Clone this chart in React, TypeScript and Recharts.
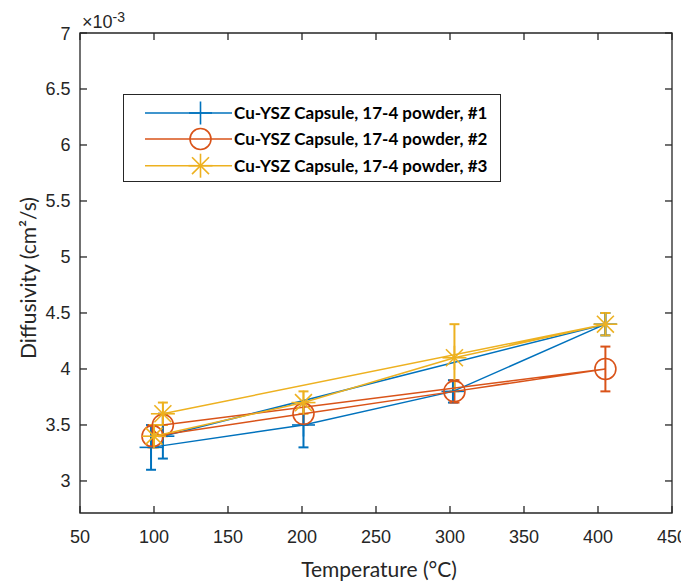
import React from 'react';
import { ScatterChart, Scatter, XAxis, YAxis, ErrorBar, ReferenceArea, Legend, Label } from 'recharts';

const seriesNames = [
  'Cu-YSZ Capsule, 17-4 powder, #1',
  'Cu-YSZ Capsule, 17-4 powder, #2',
  'Cu-YSZ Capsule, 17-4 powder, #3',
];
const seriesColors = ['#0072BD', '#D95319', '#EDB120'];

const temps1 = [98, 201, 302, 405, 106];
const diff1 = [3.3, 3.5, 3.8, 4.4, 3.4];
const err1 = [0.2, 0.2, 0.1, 0.1, 0.2];

const temps2 = [99, 201, 303, 405, 106];
const diff2 = [3.4, 3.6, 3.8, 4.0, 3.5];
const err2 = [0.1, 0.1, 0.1, 0.2, 0.1];

const temps3 = [100, 201, 303, 405, 106];
const diff3 = [3.4, 3.7, 4.1, 4.4, 3.6];
const err3 = [0.1, 0.1, 0.3, 0.1, 0.1];

const xTicks = [50, 100, 150, 200, 250, 300, 350, 400, 450];
const yTicks = [3, 3.5, 4, 4.5, 5, 5.5, 6, 6.5, 7];
const xDomain = [50, 450];
const yDomain = [2.714, 7];

const build = (t: number[], d: number[], e: number[]) => t.map((x, i) => ({ x, y: d[i], err: e[i] }));
const data1 = build(temps1, diff1, err1);
const data2 = build(temps2, diff2, err2);
const data3 = build(temps3, diff3, err3);

const W = 681;
const H = 574;
const Y_W = 72;
const X_H = 69;
const M = { top: 25, right: 17, bottom: 0, left: 0 };
const PT = M.top;
const PB = H - X_H;
const PL = Y_W;
const PR = W - M.right;
const AX = '#262626';
const TICK_FONT = '"Liberation Sans", Arial, sans-serif';
const LABEL_FONT = 'Lato, "Open Sans", sans-serif';

function drawMarker(kind: number, color: string, cx: number, cy: number) {
  if (kind === 0) {
    return (
      <g>
        <line x1={cx - 11.5} x2={cx + 11.5} y1={cy} y2={cy} stroke={color} strokeWidth={1.6} />
        <line x1={cx} x2={cx} y1={cy - 11.5} y2={cy + 11.5} stroke={color} strokeWidth={1.6} />
      </g>
    );
  }
  if (kind === 1) {
    return <circle cx={cx} cy={cy} r={10.5} fill="none" stroke={color} strokeWidth={1.6} />;
  }
  const r = 12;
  const d = r * 0.7071;
  return (
    <g stroke={color} strokeWidth={1.6}>
      <line x1={cx - r} x2={cx + r} y1={cy} y2={cy} />
      <line x1={cx} x2={cx} y1={cy - r} y2={cy + r} />
      <line x1={cx - d} x2={cx + d} y1={cy - d} y2={cy + d} />
      <line x1={cx - d} x2={cx + d} y1={cy + d} y2={cy - d} />
    </g>
  );
}

const shapeFor = (kind: number, color: string) => (props: any) => {
  const { cx, cy } = props;
  if (cx == null || cy == null) return <g />;
  return drawMarker(kind, color, cx, cy);
};

const XTick = (props: any) => {
  const { x, payload } = props;
  return (
    <g>
      <line x1={x} x2={x} y1={PB} y2={PB - 7} stroke={AX} strokeWidth={1.3} />
      <line x1={x} x2={x} y1={PT} y2={PT + 7} stroke={AX} strokeWidth={1.3} />
      <text x={x} y={PB + 29.5} textAnchor="middle" fill={AX} fontSize={18} fontFamily={TICK_FONT}>
        {payload.value}
      </text>
    </g>
  );
};

const YTick = (props: any) => {
  const { y, payload } = props;
  return (
    <g>
      <line x1={PL} x2={PL + 7} y1={y} y2={y} stroke={AX} strokeWidth={1.3} />
      <line x1={PR} x2={PR - 7} y1={y} y2={y} stroke={AX} strokeWidth={1.3} />
      <text x={PL - 9.5} y={y + 6.5} textAnchor="end" fill={AX} fontSize={18} fontFamily={TICK_FONT}>
        {String(payload.value)}
      </text>
    </g>
  );
};

const LegendBox = () => {
  const rows = [18, 44, 70.7];
  return (
    <div style={{ width: 378, height: 88, border: '1px solid #262626', boxSizing: 'border-box', background: '#fff' }}>
      <svg width={376} height={86} style={{ display: 'block' }}>
        {seriesNames.map((name, i) => (
          <g key={name}>
            <line x1={21} x2={108} y1={rows[i]} y2={rows[i]} stroke={seriesColors[i]} strokeWidth={1.6} />
            {drawMarker(i, seriesColors[i], 76.5, rows[i])}
            <text x={110} y={rows[i] + 6} fontSize={17} fontWeight="bold" fontFamily={LABEL_FONT} fill="#000">
              {name}
            </text>
          </g>
        ))}
      </svg>
    </div>
  );
};

export default function App() {
  const all = [data1, data2, data3];
  return (
    <ScatterChart width={W} height={H} margin={M} style={{ background: '#fff' }}>
      <XAxis
        type="number"
        dataKey="x"
        domain={xDomain}
        ticks={xTicks}
        allowDataOverflow
        axisLine={false}
        tickLine={false}
        tick={<XTick />}
        height={X_H}
        interval={0}
      >
        <Label
          content={(p: any) => {
            const vb = p.viewBox || { x: PL, y: PB, width: PR - PL };
            return (
              <text x={vb.x + vb.width / 2 + 3} y={vb.y + 64} textAnchor="middle" fontSize={21} fontFamily={LABEL_FONT} fill={AX}>
                Temperature (°C)
              </text>
            );
          }}
        />
      </XAxis>
      <YAxis
        type="number"
        dataKey="y"
        domain={yDomain}
        ticks={yTicks}
        allowDataOverflow
        axisLine={false}
        tickLine={false}
        tick={<YTick />}
        width={Y_W}
        interval={0}
      >
        <Label
          content={(p: any) => {
            const vb = p.viewBox || { x: 0, y: PT, height: PB - PT };
            const cy = vb.y + vb.height / 2 + 5;
            return (
              <g>
                <text
                  x={19}
                  y={cy}
                  transform={`rotate(-90 19 ${cy})`}
                  textAnchor="middle"
                  dominantBaseline="central"
                  fontSize={21}
                  fontFamily={LABEL_FONT}
                  fill={AX}
                >
                  Diffusivity (cm²/s)
                </text>
                <text x={PL + 2} y={PT - 5} fontSize={18} fontFamily={TICK_FONT} fill={AX}>
                  ×10
                  <tspan dy={-6} fontSize={14}>-3</tspan>
                </text>
              </g>
            );
          }}
        />
      </YAxis>
      <ReferenceArea
        x1={xDomain[0]}
        x2={xDomain[1]}
        y1={yDomain[0]}
        y2={yDomain[1]}
        fill="none"
        stroke={AX}
        strokeWidth={1.3}
        ifOverflow="visible"
      />
      <Legend
        layout="horizontal"
        align="center"
        verticalAlign="middle"
        content={() => <LegendBox />}
        wrapperStyle={{ left: 115, top: 86, width: 378, height: 88 }}
      />
      {all.map((d, i) => (
        <Scatter
          key={seriesNames[i]}
          name={seriesNames[i]}
          data={d}
          fill={seriesColors[i]}
          line={{ stroke: seriesColors[i], strokeWidth: 1.5 }}
          lineType="joint"
          shape={shapeFor(i, seriesColors[i])}
          isAnimationActive={false}
        >
          <ErrorBar dataKey="err" direction="y" width={5} stroke={seriesColors[i]} strokeWidth={2} />
        </Scatter>
      ))}
    </ScatterChart>
  );
}
